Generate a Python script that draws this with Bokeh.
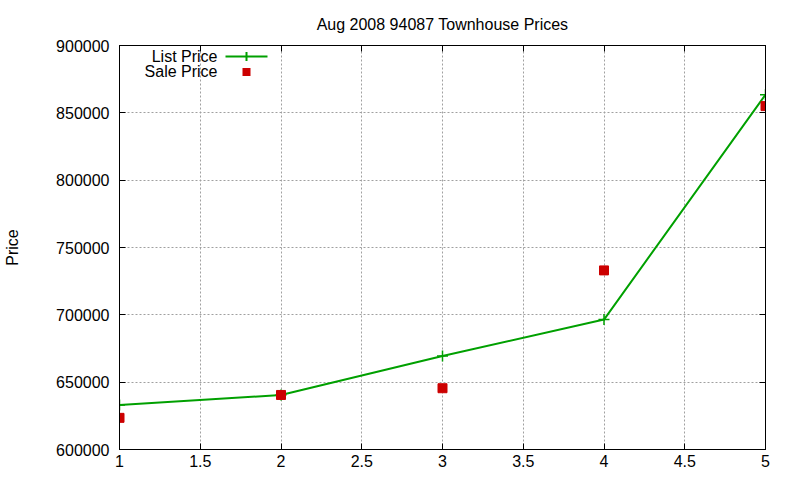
from bokeh.plotting import figure
from bokeh.models import LinearAxis, FixedTicker, Label, PolyAnnotation, Range1d
from bokeh.embed import file_html
from bokeh.resources import INLINE

# ---- data ----
months = [1, 2, 3, 4, 5]
list_price = [633000, 640500, 669500, 696500, 863500]
sale_price = [623500, 640500, 645500, 733000, 855000]
series_names = ["List Price", "Sale Price"]

x_ticks = [1, 1.5, 2, 2.5, 3, 3.5, 4, 4.5, 5]
x_tick_labels = ["1", "1.5", "2", "2.5", "3", "3.5", "4", "4.5", "5"]
y_ticks = [600000, 650000, 700000, 750000, 800000, 850000, 900000]
y_tick_labels = ["600000", "650000", "700000", "750000", "800000", "850000", "900000"]

title_text = "Aug 2008 94087 Townhouse Prices"
y_label = "Price"

# ---- style ----
FONT = "Liberation Sans"
FS = "16px"
GREEN = "#00a000"
RED = "#cc0000"
GRID = "#a0a0a0"

p = figure(width=800, height=480,
           x_range=Range1d(1, 5), y_range=Range1d(600000, 900000),
           output_backend="svg", toolbar_location=None,
           min_border_left=119, min_border_right=35,
           min_border_top=45, min_border_bottom=31)

p.background_fill_color = "white"
p.border_fill_color = "white"
p.outline_line_color = "black"
p.outline_line_width = 1

xt = FixedTicker(ticks=x_ticks)
yt = FixedTicker(ticks=y_ticks)
p.xaxis.ticker = xt
p.yaxis.ticker = yt
p.xaxis.major_label_overrides = dict(zip(x_ticks, x_tick_labels))
p.yaxis.major_label_overrides = dict(zip(y_ticks, y_tick_labels))

top_axis = LinearAxis(ticker=xt)
right_axis = LinearAxis(ticker=yt)
p.add_layout(top_axis, "above")
p.add_layout(right_axis, "right")

for ax in p.axis:
    ax.axis_line_color = "black"
    ax.axis_line_width = 1
    ax.major_tick_in = 6
    ax.major_tick_out = 0
    ax.major_tick_line_color = "black"
    ax.minor_tick_in = 0
    ax.minor_tick_out = 0
    ax.major_label_text_font = FONT
    ax.major_label_text_font_size = FS
    ax.major_label_text_color = "black"

for ax in (top_axis, right_axis):
    ax.major_label_text_font_size = "0px"
    ax.major_label_text_color = None
    ax.major_label_standoff = 0

p.xaxis[0].major_label_standoff = 8
p.yaxis[0].major_label_standoff = 10
p.yaxis[0].axis_label = y_label
p.yaxis[0].axis_label_text_font = FONT
p.yaxis[0].axis_label_text_font_size = FS
p.yaxis[0].axis_label_text_font_style = "normal"
p.yaxis[0].axis_label_text_color = "black"
p.yaxis[0].axis_label_standoff = 32

p.xgrid.grid_line_color = GRID
p.xgrid.grid_line_dash = "2 2"
p.ygrid.grid_line_color = GRID
p.ygrid.grid_line_dash = "2 2"

p.title.text = title_text
p.title.align = "center"
p.title.text_font = FONT
p.title.text_font_size = FS
p.title.text_font_style = "normal"
p.title.text_color = "black"
p.title.standoff = 25

# ---- series ----
p.line(months, list_price, line_color=GREEN, line_width=2)
p.scatter(months, list_price, marker="cross", size=11, line_color=GREEN, line_width=1.5)
p.scatter(months, sale_price, marker="square", size=9, fill_color=RED, line_color=RED)

# ---- legend (gnuplot style: text left, sample right) ----
for i, name in enumerate(series_names):
    p.add_layout(Label(x=217, y=56 + 15 * i, x_units="canvas", y_units="canvas",
                       text=name, text_align="right", text_baseline="middle",
                       text_font=FONT, text_font_size=FS, text_color="black"))

def rect(x0, x1, y0, y1, color):
    return PolyAnnotation(xs=[x0, x1, x1, x0], ys=[y0, y0, y1, y1],
                          xs_units="canvas", ys_units="canvas",
                          fill_color=color, fill_alpha=1, line_color=None)

p.add_layout(rect(225, 267, 55, 57, GREEN))
p.add_layout(rect(245, 247, 51.5, 60.5, GREEN))
p.add_layout(rect(242, 250, 67.5, 75.5, RED))

open("out.html", "w").write(file_html(p, INLINE))
